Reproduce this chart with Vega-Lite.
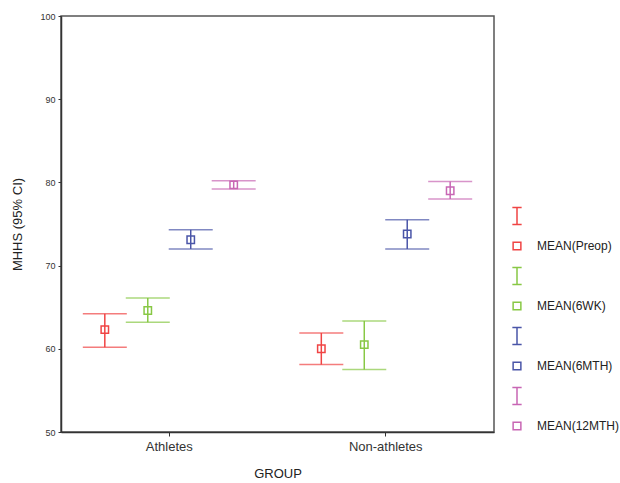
{
  "$schema": "https://vega.github.io/schema/vega-lite/v6.json",
  "autosize": {"type": "none"},
  "padding": {"left": 61, "top": 16, "right": 126, "bottom": 51},
  "width": 433,
  "height": 416,
  "background": "white",
  "config": {
    "font": "Liberation Sans",
    "view": {"stroke": "#555", "strokeWidth": 1.5},
    "axis": {"grid": false, "domainColor": "#333", "domainWidth": 1.5, "tickColor": "#333", "tickWidth": 1, "labelColor": "#333", "titleColor": "#222", "titleFontWeight": "normal", "labelFont": "Liberation Sans", "titleFont": "Liberation Sans"}
  },
  "data": {
    "values": [
      {"group": "Athletes", "time": "Preop", "mean": 62.3, "lo": 60.2, "hi": 64.2, "mean_key": "MEAN(Preop)"},
      {"group": "Athletes", "time": "6WK", "mean": 64.6, "lo": 63.2, "hi": 66.1, "mean_key": "MEAN(6WK)"},
      {"group": "Athletes", "time": "6MTH", "mean": 73.1, "lo": 72.0, "hi": 74.3, "mean_key": "MEAN(6MTH)"},
      {"group": "Athletes", "time": "12MTH", "mean": 79.7, "lo": 79.2, "hi": 80.2, "mean_key": "MEAN(12MTH)"},
      {"group": "Non-athletes", "time": "Preop", "mean": 60.0, "lo": 58.1, "hi": 61.9, "mean_key": "MEAN(Preop)"},
      {"group": "Non-athletes", "time": "6WK", "mean": 60.5, "lo": 57.5, "hi": 63.35, "mean_key": "MEAN(6WK)"},
      {"group": "Non-athletes", "time": "6MTH", "mean": 73.8, "lo": 72.0, "hi": 75.5, "mean_key": "MEAN(6MTH)"},
      {"group": "Non-athletes", "time": "12MTH", "mean": 79.0, "lo": 78.0, "hi": 80.1, "mean_key": "MEAN(12MTH)"}
    ]
  },
  "encoding": {
    "x": {
      "field": "group", "type": "nominal",
      "scale": {"paddingInner": 0, "paddingOuter": 0},
      "axis": {"title": "GROUP", "labelAngle": 0, "labelFontSize": 13, "titleFontSize": 13, "tickSize": 4, "labelPadding": 4, "titlePadding": 14}
    },
    "xOffset": {
      "field": "time", "type": "nominal",
      "scale": {"domain": ["Preop", "6WK", "6MTH", "12MTH"], "paddingInner": 0, "paddingOuter": 0.52}
    }
  },
  "layer": [
    {
      "mark": {"type": "rule", "strokeWidth": 1.5},
      "encoding": {
        "y": {"field": "lo", "type": "quantitative"},
        "y2": {"field": "hi"},
        "stroke": {"field": "time", "type": "nominal", "legend": null,
          "scale": {"domain": ["Preop", "6WK", "6MTH", "12MTH"], "range": ["#f04444", "#88c845", "#4a55a8", "#c866b4"]}}
      }
    },
    {
      "mark": {"type": "tick", "size": 44, "thickness": 1.5},
      "encoding": {
        "y": {"field": "lo", "type": "quantitative"},
        "fill": {"field": "time", "type": "nominal", "legend": null,
          "scale": {"domain": ["Preop", "6WK", "6MTH", "12MTH"], "range": ["#f04444", "#88c845", "#4a55a8", "#c866b4"]}}
      }
    },
    {
      "mark": {"type": "tick", "size": 44, "thickness": 1.5},
      "encoding": {
        "y": {"field": "hi", "type": "quantitative"},
        "fill": {"field": "time", "type": "nominal", "legend": null}
      }
    },
    {
      "mark": {"type": "point", "filled": false, "size": 55, "strokeWidth": 1.5, "opacity": 1},
      "encoding": {
        "y": {
          "field": "mean", "type": "quantitative",
          "scale": {"domain": [50, 100], "nice": false, "zero": false},
          "axis": {"title": "MHHS (95% CI)", "values": [50, 60, 70, 80, 90, 100], "labelFontSize": 9, "titleFontSize": 13, "tickSize": 3, "labelPadding": 3, "titlePadding": 15}
        },
        "color": {
          "field": "mean_key", "type": "nominal",
          "scale": {
            "domain": ["CI Preop", "MEAN(Preop)", "CI 6WK", "MEAN(6WK)", "CI 6MTH", "MEAN(6MTH)", "CI 12MTH", "MEAN(12MTH)"],
            "range": ["#f04444", "#f04444", "#88c845", "#88c845", "#4a55a8", "#4a55a8", "#c866b4", "#c866b4"]
          },
          "legend": {
            "title": null, "orient": "none", "legendX": 450, "legendY": 194,
            "labelExpr": "indexof(datum.label, 'CI') == 0 ? '' : datum.label",
            "labelFontSize": 12, "labelColor": "#222", "labelFont": "Liberation Sans",
            "symbolSize": 60, "symbolStrokeWidth": 1.5, "rowPadding": 11, "labelOffset": 14
          }
        },
        "shape": {
          "field": "mean_key", "type": "nominal",
          "scale": {
            "domain": ["CI Preop", "MEAN(Preop)", "CI 6WK", "MEAN(6WK)", "CI 6MTH", "MEAN(6MTH)", "CI 12MTH", "MEAN(12MTH)"],
            "range": ["M-1.2,-2.17H1.2M0,-2.17V2.17M-1.2,2.17H1.2", "square", "M-1.2,-2.17H1.2M0,-2.17V2.17M-1.2,2.17H1.2", "square", "M-1.2,-2.17H1.2M0,-2.17V2.17M-1.2,2.17H1.2", "square", "M-1.2,-2.17H1.2M0,-2.17V2.17M-1.2,2.17H1.2", "square"]
          }
        }
      }
    }
  ]
}
